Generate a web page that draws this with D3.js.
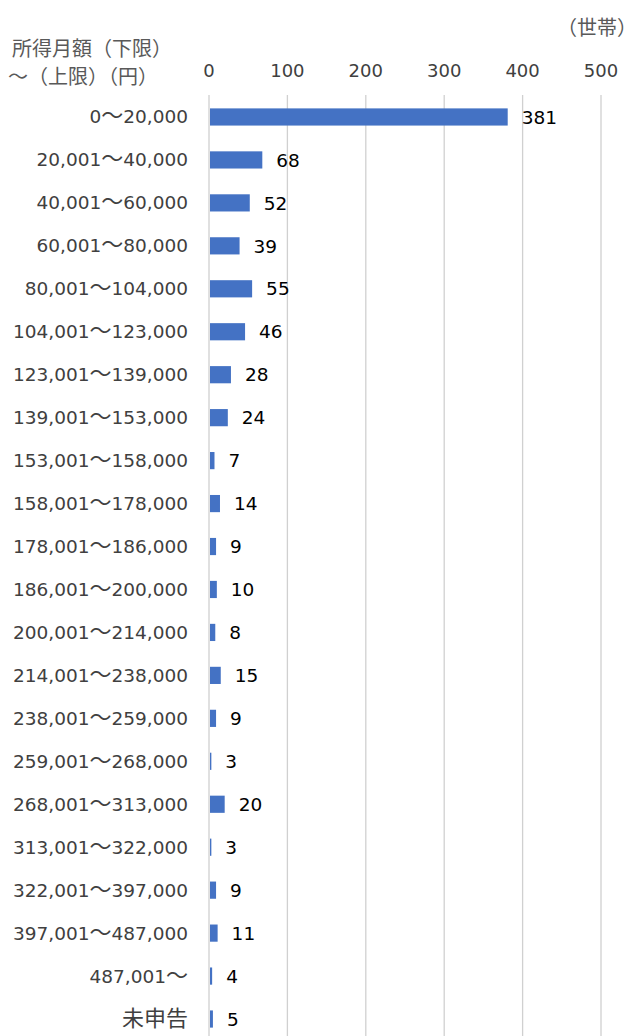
<!DOCTYPE html>
<html>
<head>
<meta charset="utf-8">
<script src="https://cdn.jsdelivr.net/npm/d3@7"></script>
<style>
  body { margin: 0; background: #fff; }
  svg text { font-family: "DejaVu Sans", "Noto Sans CJK JP", sans-serif; }
</style>
</head>
<body>
<div id="chart"></div>
<script>
// income brackets (monthly, yen) and household counts
var categories = [
    "0～20,000", "20,001～40,000", "40,001～60,000", "60,001～80,000",
    "80,001～104,000", "104,001～123,000", "123,001～139,000", "139,001～153,000",
    "153,001～158,000", "158,001～178,000", "178,001～186,000", "186,001～200,000",
    "200,001～214,000", "214,001～238,000", "238,001～259,000", "259,001～268,000",
    "268,001～313,000", "313,001～322,000", "322,001～397,000", "397,001～487,000",
    "487,001～", "未申告"
];
var households = [381, 68, 52, 39, 55, 46, 28, 24, 7, 14, 9, 10, 8, 15, 9, 3, 20, 3, 9, 11, 4, 5];
var tickValues = [0, 100, 200, 300, 400, 500];

var CJK_FONT = "'Noto Sans CJK JP'";

// split a label into half-width / full-width runs so the wide glyphs get a bigger size
function add_runs(sel, narrowSize, wideSize) {
    sel.each(function(d) {
        var t = d3.select(this);
        var runs = String(d).match(/[0-9,\.]+|[^0-9,\.]+/g) || [];
        runs.forEach(function(r) {
            var wide = /[^0-9,\.]/.test(r);
            t.append("tspan")
                .attr("font-size", wide ? wideSize : narrowSize)
                .style("font-family", wide ? CJK_FONT : null)
                .text(r);
        });
    });
}

function draw_income_bars() {
    var width = 638, height = 1036;
    var margin = { top: 95, right: 37, left: 209 };

    var svg = d3.select("#chart")
        .append("svg")
        .attr("width", width)
        .attr("height", height);

    var x = d3.scaleLinear()
        .domain([0, 500])
        .range([margin.left, width - margin.right]);

    var y = d3.scaleBand()
        .domain(categories)
        .range([95.5, 1040.5])
        .paddingInner(0.6)
        .paddingOuter(0.3);

    // gridlines
    svg.append("g")
        .selectAll("line")
        .data(tickValues)
        .enter().append("line")
        .attr("x1", function(d) { return x(d); })
        .attr("x2", function(d) { return x(d); })
        .attr("y1", margin.top)
        .attr("y2", height)
        .attr("stroke", "#d0d0d0")
        .attr("stroke-width", 1.3);

    // top axis labels
    svg.append("g")
        .selectAll("text")
        .data(tickValues)
        .enter().append("text")
        .attr("x", function(d) { return x(d); })
        .attr("y", 77)
        .attr("text-anchor", "middle")
        .attr("font-size", 18)
        .attr("fill", "#404040")
        .text(function(d) { return d; });

    // bars
    svg.append("g")
        .selectAll("rect")
        .data(households)
        .enter().append("rect")
        .attr("x", x(0) + 1)
        .attr("y", function(d, i) { return y(categories[i]); })
        .attr("width", function(d) { return x(d) - x(0) - 1; })
        .attr("height", y.bandwidth())
        .attr("fill", "#4472C4");

    // value labels
    svg.append("g")
        .selectAll("text")
        .data(households)
        .enter().append("text")
        .attr("x", function(d) { return x(d) + 14; })
        .attr("y", function(d, i) { return y(categories[i]) + y.bandwidth() / 2; })
        .attr("dy", "0.36em")
        .attr("font-size", 18.5)
        .attr("fill", "#000")
        .text(function(d) { return d; });

    // category labels
    svg.append("g")
        .selectAll("text")
        .data(categories)
        .enter().append("text")
        .attr("x", 188)
        .attr("y", function(d) { return y(d) + y.bandwidth() / 2 + 6.5; })
        .attr("text-anchor", "end")
        .attr("fill", "#404040")
        .call(add_runs, 18.5, 22);

    // axis titles
    svg.append("text")
        .attr("x", 12).attr("y", 56)
        .attr("font-size", 20).attr("fill", "#595959")
        .style("font-family", CJK_FONT)
        .text("所得月額（下限）");
    svg.append("text")
        .attr("x", 8).attr("y", 84)
        .attr("font-size", 20).attr("fill", "#595959")
        .style("font-family", CJK_FONT)
        .text("～（上限）（円）");
    svg.append("text")
        .attr("x", 637).attr("y", 35)
        .attr("text-anchor", "end")
        .attr("font-size", 20).attr("fill", "#595959")
        .style("font-family", CJK_FONT)
        .text("（世帯）");
}

draw_income_bars();
</script>
</body>
</html>
